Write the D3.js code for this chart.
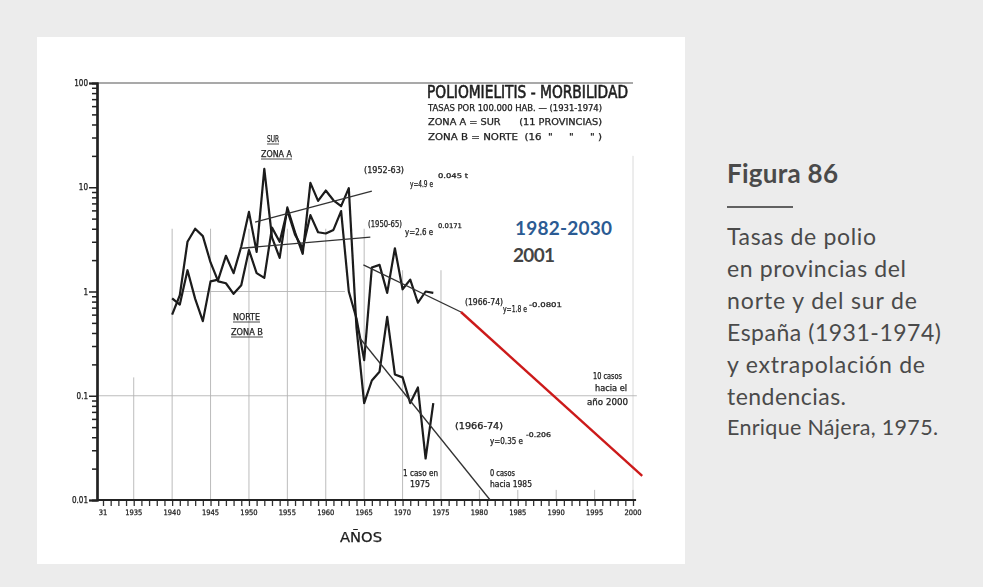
<!DOCTYPE html>
<html>
<head>
<meta charset="utf-8">
<script src="https://cdn.jsdelivr.net/npm/d3@7/dist/d3.min.js"></script>
<style>
  html, body { margin: 0; padding: 0; background: #ececec; }
  svg { display: block; }
  .scan text { font-family: "Liberation Sans Narrow", "DejaVu Sans Condensed", "Liberation Sans", sans-serif; fill: #1e1e1e; white-space: pre; stroke: #1e1e1e; stroke-width: 0.25; }
  .caption text { font-family: Lato, "Open Sans", sans-serif; fill: #4a4a4a; }
</style>
</head>
<body>
<svg id="fig" width="983" height="587"></svg>
<script>
// Polio morbidity, rates per 100,000 inhabitants, 1940-1974
const years = d3.range(1940, 1975);
const surZonaA = [0.86, 0.75, 1.6, 0.85, 0.52, 1.25, 1.3, 2.2, 1.5, 2.7,
                  5.8, 2.4, 15, 3.3, 2.1, 6.4, 3.7, 2.3, 11, 7.4,
                  9.3, 7.5, 6.6, 9.8, 0.45, 0.085, 0.14, 0.17, 0.57, 0.16,
                  0.15, 0.085, 0.12, 0.025, 0.085];
const norteZonaB = [0.60, 0.92, 3.0, 4.0, 3.4, 1.9, 1.25, 1.2, 0.95, 1.15,
                    2.5, 1.5, 1.35, 4.1, 3.0, 6.0, 3.5, 2.6, 5.4, 3.7,
                    3.6, 3.9, 5.9, 1.0, 0.55, 0.22, 1.7, 1.8, 0.97, 2.6,
                    1.05, 1.3, 0.78, 1.0, 0.97];

// Fitted exponential trends, end points [year, rate]
const trendSur5263 = [[1950.8, 4.64], [1966.0, 9.2]];
const trendNorte5065 = [[1949.1, 2.6], [1965.8, 3.33]];
const trendUpper6674 = [[1964.9, 1.8], [1977.6, 0.636]];
const trendLower6674 = [[1964.4, 0.36], [1981.4, 0.01]];
// Extension of the upper 1966-74 trend
const extension = [[1977.6, 0.636], [2001.2, 0.017]];

// Axis ticks
const yMajor = [0.01, 0.1, 1, 10, 100];
const yMajorLabels = ["0.01", "0.1", "1", "10", "100"];
const xLabelYears = d3.range(1935, 2001, 5);

const captionLines = ["Tasas de polio", "en provincias del", "norte y del sur de",
                      "España (1931-1974)", "y extrapolación de", "tendencias."];
const captionWidths = [149, 179, 190, 214, 198, 119];

const svg = d3.select("#fig");

// white page
svg.append("rect").attr("x", 37).attr("y", 37).attr("width", 648).attr("height", 527).attr("fill", "#fff");

const defs = svg.append("defs");
defs.append("filter").attr("id", "soft")
  .attr("x", -0.05).attr("y", -0.05).attr("width", 1.1).attr("height", 1.1)
  .append("feGaussianBlur").attr("stdDeviation", 0.75);

const g = svg.append("g").attr("class", "scan").attr("filter", "url(#soft)");

const x = d3.scaleLinear().domain([1931, 2000]).range([103, 633]);
const y = d3.scaleLog().domain([0.01, 100]).range([500, 83]);
const axisX = 97;

// grid
const grid = g.append("g").attr("stroke", "#b4b4b4").attr("stroke-width", 0.9);
grid.append("line").attr("x1", x(1935)).attr("x2", x(1935)).attr("y1", y(0.15)).attr("y2", y(0.01));
d3.range(1940, 1966, 5).forEach(yr => {
  grid.append("line").attr("x1", x(yr)).attr("x2", x(yr)).attr("y1", y(4)).attr("y2", y(0.01));
});
[1970, 1975].forEach(yr => {
  grid.append("line").attr("x1", x(yr)).attr("x2", x(yr)).attr("y1", y(1.6)).attr("y2", y(0.01));
});
d3.range(1980, 2001, 5).forEach(yr => {
  grid.append("line").attr("x1", x(yr)).attr("x2", x(yr)).attr("y1", y(0.0125)).attr("y2", y(0.01));
});
grid.append("line").attr("x1", x(2000)).attr("x2", x(2000)).attr("y1", y(20)).attr("y2", y(0.01)).attr("stroke", "#d6d6d6");
grid.append("line").attr("x1", x(1941.5)).attr("x2", x(1962.5)).attr("y1", y(1)).attr("y2", y(1));
grid.append("line").attr("x1", axisX).attr("x2", x(2000.5)).attr("y1", y(0.1)).attr("y2", y(0.1));
g.append("line").attr("x1", axisX).attr("x2", x(2000)).attr("y1", y(100)).attr("y2", y(100))
  .attr("stroke", "#555").attr("stroke-width", 1.2);

// y axis (log): minor ticks and labelled decades
const minor = [];
[0.01, 0.1, 1, 10].forEach(d => { for (let k = 2; k <= 9; k++) minor.push(+(d * k).toPrecision(3)); });
const yMinorAxis = g.append("g").attr("transform", `translate(${axisX},0)`)
  .call(d3.axisLeft(y).tickValues(minor).tickSize(5).tickFormat(""));
const yAxis = g.append("g").attr("transform", `translate(${axisX},0)`)
  .call(d3.axisLeft(y).tickValues(yMajor).tickSize(8).tickPadding(1)
        .tickFormat((d, i) => yMajorLabels[i]));
[yMinorAxis, yAxis].forEach(a => {
  a.select(".domain").attr("stroke", "#222").attr("stroke-width", 2.2);
  a.selectAll(".tick line").attr("stroke", "#222").attr("stroke-width", 1.5);
});
yAxis.selectAll("text").attr("font-size", 8).attr("fill", "#333")
  .attr("font-family", "Liberation Sans Narrow, DejaVu Sans Condensed, sans-serif");

// x axis: yearly ticks
const xAxis = g.append("g").attr("transform", `translate(0,${y(0.01)})`)
  .call(d3.axisBottom(x).tickValues(d3.range(1931, 2001)).tickSize(6).tickFormat(""));
xAxis.select(".domain").remove();
xAxis.selectAll(".tick line").attr("stroke", "#333").attr("stroke-width", 1.3);
g.append("line").attr("x1", axisX).attr("x2", x(2000.4)).attr("y1", y(0.01)).attr("y2", y(0.01))
  .attr("stroke", "#222").attr("stroke-width", 2);
const xLab = g.append("g").attr("font-size", 7.5).attr("fill", "#333");
xLab.append("text").attr("x", x(1931)).attr("y", 515).attr("text-anchor", "middle").text("31");
xLabelYears.forEach(yr => {
  xLab.append("text").attr("x", x(yr)).attr("y", 515).attr("text-anchor", "middle").text(yr);
});
g.append("text").attr("x", 340).attr("y", 542).attr("font-size", 14).attr("textLength", 42)
  .attr("lengthAdjust", "spacingAndGlyphs").attr("fill", "#333").text("AÑOS");

// series
const line = d3.line().x(d => x(d[0])).y(d => y(d[1]));
[surZonaA, norteZonaB].forEach(series => {
  g.append("path").datum(years.map((yr, i) => [yr, series[i]]))
    .attr("d", line).attr("fill", "none").attr("stroke", "#1a1a1a")
    .attr("stroke-width", 2.2).attr("stroke-linejoin", "round");
});

// trend lines
[trendSur5263, trendNorte5065, trendUpper6674, trendLower6674].forEach(t => {
  g.append("path").datum(t).attr("d", line).attr("fill", "none")
    .attr("stroke", "#333").attr("stroke-width", 1.3);
});

// labels
function label(txt, px, py, size, len) {
  const t = g.append("text").attr("x", px).attr("y", py).attr("font-size", size).text(txt);
  if (len) t.attr("textLength", len).attr("lengthAdjust", "spacingAndGlyphs");
  return t;
}
label("POLIOMIELITIS - MORBILIDAD", 427, 98, 18, 201).style("stroke-width", 0.6);
label("TASAS POR 100.000 HAB. — (1931-1974)", 428, 111, 8, 174);
label("ZONA A = SUR      (11 PROVINCIAS)", 428, 125, 9, 174);
label("ZONA B = NORTE  (16  \"     \"     \" )", 428, 140, 9, 174);

function underlined(txt, px, py, len) {
  label(txt, px, py, 8.5, len);
  g.append("line").attr("x1", px).attr("x2", px + len).attr("y1", py + 2).attr("y2", py + 2)
    .attr("stroke", "#333").attr("stroke-width", 0.9);
}
underlined("SUR", 267, 142, 12);
underlined("ZONA A", 261, 157, 31);
underlined("NORTE", 233, 320, 27);
underlined("ZONA B", 231, 335, 32);

label("(1952-63)", 364, 173, 8, 40);
label("y=4.9 e", 410, 187, 8, 23);
label("0.045 t", 438, 178, 6.5, 30);
label("(1950-65)", 368, 227, 8, 34);
label("y=2.6 e", 405, 235, 8, 28);
label("0.0171", 438, 228, 6.5, 24);
label("(1966-74)", 465, 305, 8, 38);
label("y=1.8 e", 503, 312, 8, 24);
label("-0.0801", 529, 307, 6.5, 33);
label("(1966-74)", 455, 429, 8, 48);
label("y=0.35 e", 490, 444, 8, 33);
label("-0.206", 526, 437, 6.5, 25);
label("10 casos", 593, 379, 8, 29);
label("hacia el", 595, 391, 8, 32);
label("año 2000", 587, 405, 8, 41);
label("0 casos", 490, 476, 8, 25);
label("hacia 1985", 490, 487, 8, 42);
label("1 caso en", 403, 476, 8, 35);
label("1975", 410, 487, 8, 20);

// projection
svg.append("path").datum(extension).attr("d", line).attr("fill", "none")
  .attr("stroke", "#cc1a1a").attr("stroke-width", 2.4);

// period labels
svg.append("text").attr("x", 515).attr("y", 235).attr("font-family", "Lato, sans-serif")
  .attr("font-weight", 700).attr("font-size", 19).attr("textLength", 97)
  .attr("fill", "#2b5b93").text("1982-2030");
svg.append("text").attr("x", 513).attr("y", 262).attr("font-family", "Lato, sans-serif")
  .attr("font-weight", 700).attr("font-size", 19).attr("textLength", 42)
  .attr("fill", "#444").text("2001");

// caption
const cap = svg.append("g").attr("class", "caption");
cap.append("text").attr("x", 727).attr("y", 183).attr("font-size", 26).attr("font-weight", 700)
  .attr("textLength", 111).attr("fill", "#454545").text("Figura 86");
cap.append("line").attr("x1", 727).attr("x2", 793).attr("y1", 207).attr("y2", 207)
  .attr("stroke", "#333").attr("stroke-width", 1.5);
captionLines.forEach((s, i) => {
  cap.append("text").attr("x", 727).attr("y", 245 + i * 32).attr("font-size", 23)
    .attr("textLength", captionWidths[i]).text(s);
});
cap.append("text").attr("x", 727).attr("y", 435).attr("font-size", 21.5)
  .attr("textLength", 211).text("Enrique Nájera, 1975.");
</script>
</body>
</html>
